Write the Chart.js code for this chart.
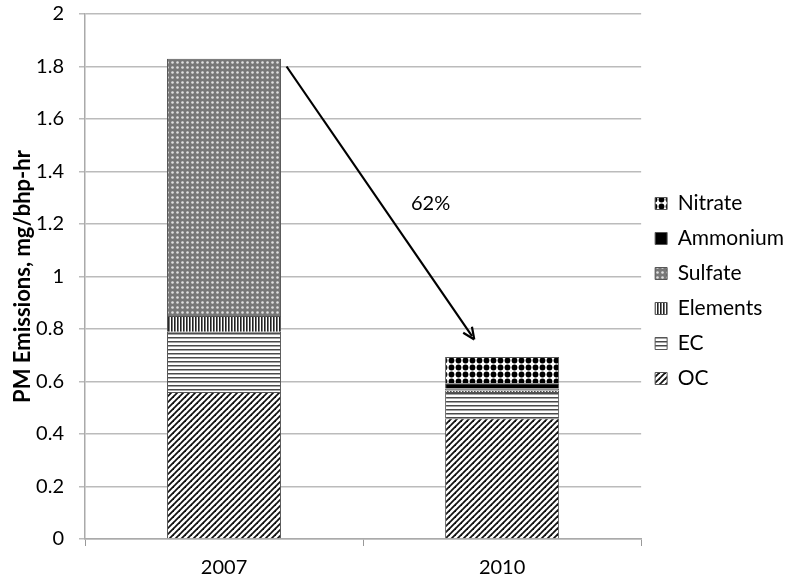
<!DOCTYPE html>
<html>
<head>
<meta charset="utf-8">
<script src="https://cdn.jsdelivr.net/npm/chart.js@4"></script>
<style>
  html, body { margin: 0; padding: 0; background: #fff; }
  #wrap { width: 800px; height: 582px; position: relative; }
</style>
</head>
<body>
<div id="wrap"><canvas id="pm-chart" width="800" height="582"></canvas></div>
<script>
// data
const categories = ["2007", "2010"];
const ocValues = [0.56, 0.46];
const ecValues = [0.23, 0.10];
const elementsValues = [0.06, 0.006];
const sulfateValues = [0.98, 0.007];
const ammoniumValues = [null, 0.02];
const nitrateValues = [null, 0.10];
const yMax = 2;
const yStep = 0.2;
const reductionLabel = "62%";
// arrow from/to in (category index, value)
const arrowFrom = [0.225, 1.80];
const arrowTo = [0.90, 0.76];
const labelAt = [0.743, 1.277];

const FONT = "Lato, 'Open Sans', sans-serif";

// fill patterns
const makePattern = (w, h, draw) => {
  const c = document.createElement("canvas");
  c.width = w; c.height = h;
  const g = c.getContext("2d");
  draw(g, w, h);
  return g.createPattern(c, "repeat");
};

const ocPattern = makePattern(6, 6, (g, w, h) => {
  g.fillStyle = "#fff"; g.fillRect(0, 0, w, h);
  g.strokeStyle = "#111"; g.lineWidth = 1.8;
  for (let k = -1; k <= 1; k++) {
    g.beginPath();
    g.moveTo(k * w - 1, h + 1);
    g.lineTo(k * w + w + 1, -1);
    g.stroke();
  }
});
const ecPattern = makePattern(4, 4, (g, w, h) => {
  g.fillStyle = "#fff"; g.fillRect(0, 0, w, h);
  g.fillStyle = "#4a4a4a"; g.fillRect(0, 1, w, 1.5);
});
const elementsPattern = makePattern(3, 3, (g, w, h) => {
  g.fillStyle = "#fff"; g.fillRect(0, 0, w, h);
  g.fillStyle = "#222"; g.fillRect(0, 0, 1.6, h);
});
const sulfatePattern = makePattern(5, 5, (g, w, h) => {
  g.fillStyle = "#777"; g.fillRect(0, 0, w, h);
  g.fillStyle = "#e0e0e0";
  g.beginPath(); g.arc(2.5, 2.5, 1.3, 0, Math.PI * 2); g.fill();
});
const nitratePattern = makePattern(7, 7, (g, w, h) => {
  g.fillStyle = "#fff"; g.fillRect(0, 0, w, h);
  g.fillStyle = "#000";
  g.beginPath(); g.arc(3.5, 3.5, 2.9, 0, Math.PI * 2); g.fill();
});

const mkSet = (label, data, fill) => ({
  label: label,
  data: data,
  backgroundColor: fill,
  borderColor: "#555",
  borderWidth: 1,
  barPercentage: 0.41,
  categoryPercentage: 1.0,
});

const arrowPlugin = {
  id: "arrow",
  afterDatasetsDraw(chart) {
    const x = chart.scales.x, y = chart.scales.y;
    const px = (i) => x.getPixelForValue(0) + i * (x.getPixelForValue(1) - x.getPixelForValue(0));
    const x1 = px(arrowFrom[0]), y1 = y.getPixelForValue(arrowFrom[1]);
    const x2 = px(arrowTo[0]), y2 = y.getPixelForValue(arrowTo[1]);
    const ctx = chart.ctx;
    ctx.save();
    ctx.strokeStyle = "#000";
    ctx.fillStyle = "#000";
    ctx.lineWidth = 2.2;
    const ang = Math.atan2(y2 - y1, x2 - x1);
    ctx.beginPath();
    ctx.moveTo(x1, y1);
    ctx.lineTo(x2 - 4 * Math.cos(ang), y2 - 4 * Math.sin(ang));
    ctx.stroke();
    const hl = 13, hw = 0.42;
    ctx.beginPath();
    ctx.moveTo(x2, y2);
    ctx.lineTo(x2 - hl * Math.cos(ang - hw), y2 - hl * Math.sin(ang - hw));
    ctx.moveTo(x2, y2);
    ctx.lineTo(x2 - hl * Math.cos(ang + hw), y2 - hl * Math.sin(ang + hw));
    ctx.stroke();
    ctx.font = "20px " + FONT;
    ctx.textAlign = "center";
    ctx.textBaseline = "middle";
    ctx.fillText(reductionLabel, px(labelAt[0]), y.getPixelForValue(labelAt[1]));
    ctx.restore();
  }
};

new Chart(document.getElementById("pm-chart"), {
  type: "bar",
  data: {
    labels: categories,
    datasets: [
      mkSet("OC", ocValues, ocPattern),
      mkSet("EC", ecValues, ecPattern),
      mkSet("Elements", elementsValues, elementsPattern),
      mkSet("Sulfate", sulfateValues, sulfatePattern),
      mkSet("Ammonium", ammoniumValues, "#000"),
      mkSet("Nitrate", nitrateValues, nitratePattern),
    ],
  },
  options: {
    responsive: false,
    animation: false,
    layout: { padding: { top: 0, right: 6, bottom: 0, left: 0 } },
    plugins: {
      tooltip: { enabled: false },
      legend: {
        position: "right",
        reverse: true,
        labels: {
          boxWidth: 12,
          boxHeight: 12,
          padding: 14,
          color: "#000",
          font: { family: FONT, size: 21 },
        },
      },
    },
    scales: {
      x: {
        stacked: true,
        grid: { offset: true, drawOnChartArea: false, color: "#999", tickLength: 7 },
        border: { color: "#aaa", width: 1.5 },
        ticks: { color: "#000", padding: 10, font: { family: FONT, size: 20 } },
        afterFit(scale) { scale.height = 43; },
      },
      y: {
        stacked: true,
        min: 0,
        max: yMax,
        ticks: {
          stepSize: yStep,
          color: "#000",
          padding: 15,
          font: { family: FONT, size: 20 },
          callback: (v) => String(Number(v.toFixed(1))),
        },
        grid: { color: "#bbb", lineWidth: 1.5, tickLength: 6 },
        border: { color: "#aaa", width: 1.5 },
        title: {
          display: true,
          text: "PM Emissions, mg/bhp-hr",
          color: "#000",
          font: { family: FONT, size: 22, weight: "bold" },
          padding: { top: 10, bottom: 0 },
        },
        afterFit(scale) {
          scale.width = 85;
          scale.paddingTop = 14;
        },
      },
    },
  },
  plugins: [arrowPlugin],
});
</script>
</body>
</html>
